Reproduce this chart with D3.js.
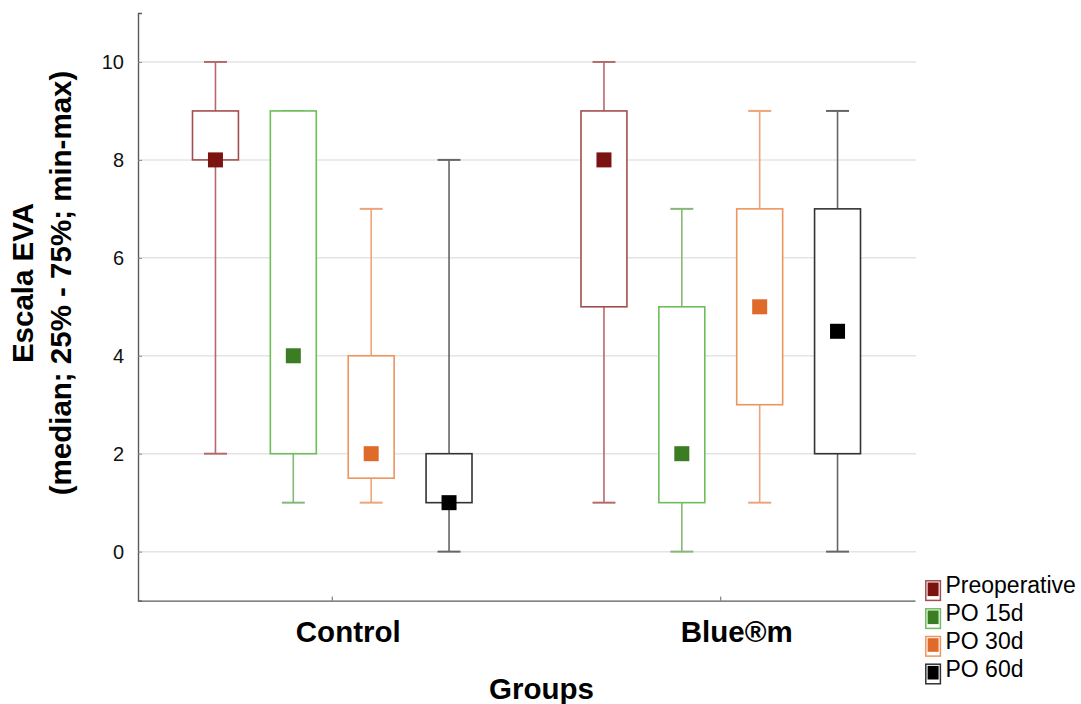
<!DOCTYPE html>
<html>
<head>
<meta charset="utf-8">
<script src="https://cdn.jsdelivr.net/npm/d3@7"></script>
<style>
  html, body { margin: 0; padding: 0; background: #fff; }
  svg { display: block; font-family: "Liberation Sans", Arial, Helvetica, sans-serif; }
</style>
</head>
<body>
<svg id="chart" width="1081" height="704"></svg>
<script>
// ---- data ----
const groups = ["Control", "Blue®m"];
const series = ["Preoperative", "PO 15d", "PO 30d", "PO 60d"];
// [min, q1, median, q3, max] per series, per group
const controlStats = [
  [2, 8, 8, 9, 10],
  [1, 2, 4, 9, 9],
  [1, 1.5, 2, 4, 7],
  [0, 1, 1, 2, 8]
];
const bluemStats = [
  [1, 5, 8, 9, 10],
  [0, 1, 2, 5, 7],
  [1, 3, 5, 7, 9],
  [0, 2, 4.5, 7, 9]
];
const yTicks = [0, 2, 4, 6, 8, 10];

// ---- styles ----
const boxStroke = ["#a24e4e", "#6dbd5a", "#ec955e", "#333333"];
const whiskerStroke = ["#b56a6a", "#85b877", "#eea47a", "#666666"];
const medianFill = ["#7b1411", "#3b7d22", "#df6a2a", "#000000"];

const svg = d3.select("#chart");

const x0 = d3.scaleBand().domain(groups).range([138, 915]).padding(0);
const x1 = d3.scaleBand().domain(series).range([0, x0.bandwidth()])
  .paddingInner(0.41).paddingOuter(0.7);
const y = d3.scaleLinear().domain([-1, 11]).range([600.6, 13]);

const statsByGroup = { "Control": controlStats, "Blue®m": bluemStats };
const rows = [];
groups.forEach(g => series.forEach((s, i) => {
  const v = statsByGroup[g][i];
  rows.push({ g, s, i, min: v[0], q1: v[1], med: v[2], q3: v[3], max: v[4] });
}));

// gridlines
svg.append("g").selectAll("line").data(yTicks).join("line")
  .attr("x1", 138).attr("x2", 916)
  .attr("y1", d => y(d)).attr("y2", d => y(d))
  .attr("stroke", "#e4e4e4").attr("stroke-width", 1.5);

// axes
const yAxis = d3.axisLeft(y).tickValues(yTicks).tickSize(-4).tickPadding(14).tickFormat(d3.format("d"));
const gy = svg.append("g").attr("transform", "translate(138,0)").call(yAxis);
gy.select(".domain").attr("stroke", "#5a5a5a").attr("stroke-width", 1.4);
gy.selectAll(".tick line").attr("stroke", "#888");
gy.selectAll(".tick text").attr("font-size", 20).attr("fill", "#111")
  .attr("font-family", "Liberation Sans, Arial, sans-serif");

const xAxis = d3.axisBottom(x0).tickSize(-4).tickSizeOuter(0).tickFormat("");
const gx = svg.append("g").attr("transform", "translate(0,600.6)").call(xAxis);
gx.select(".domain").attr("stroke", "#5a5a5a").attr("stroke-width", 1.4);
gx.selectAll(".tick line").attr("stroke", "#666");

// category labels
svg.append("g").selectAll("text").data(groups).join("text")
  .attr("x", d => x0(d) + x0.bandwidth() / 2 + 16)
  .attr("y", 641.5)
  .attr("text-anchor", "middle")
  .attr("font-weight", "bold").attr("font-size", 29.5).attr("fill", "#000")
  .text(d => d);

// axis titles
svg.append("text")
  .attr("x", (138 + 915) / 2 + 15).attr("y", 699)
  .attr("text-anchor", "middle")
  .attr("font-weight", "bold").attr("font-size", 29.5).attr("fill", "#000")
  .text("Groups");

const yt = svg.append("g").attr("transform", "translate(0,283) rotate(-90)");
yt.append("text").attr("x", 0).attr("y", 33).attr("text-anchor", "middle")
  .attr("font-weight", "bold").attr("font-size", 29.5).attr("fill", "#000")
  .text("Escala EVA");
yt.append("text").attr("x", 0).attr("y", 71).attr("text-anchor", "middle")
  .attr("font-weight", "bold").attr("font-size", 29.5).attr("fill", "#000")
  .text("(median; 25% - 75%; min-max)");

// boxes
const bw = x1.bandwidth();
const cx = d => x0(d.g) + x1(d.s) + bw / 2;
const capW = bw / 2;

const gb = svg.append("g");
const item = gb.selectAll("g.item").data(rows).join("g").attr("class", "item");

// whiskers
item.append("line")
  .attr("x1", cx).attr("x2", cx)
  .attr("y1", d => y(d.max)).attr("y2", d => y(d.q3))
  .attr("stroke", d => whiskerStroke[d.i]).attr("stroke-width", 1.6);
item.append("line")
  .attr("x1", cx).attr("x2", cx)
  .attr("y1", d => y(d.q1)).attr("y2", d => y(d.min))
  .attr("stroke", d => whiskerStroke[d.i]).attr("stroke-width", 1.6);
// caps
item.append("line")
  .attr("x1", d => cx(d) - capW / 2).attr("x2", d => cx(d) + capW / 2)
  .attr("y1", d => y(d.max)).attr("y2", d => y(d.max))
  .attr("stroke", d => whiskerStroke[d.i]).attr("stroke-width", 2);
item.append("line")
  .attr("x1", d => cx(d) - capW / 2).attr("x2", d => cx(d) + capW / 2)
  .attr("y1", d => y(d.min)).attr("y2", d => y(d.min))
  .attr("stroke", d => whiskerStroke[d.i]).attr("stroke-width", 2);
// box
item.append("rect")
  .attr("x", d => cx(d) - bw / 2).attr("width", bw)
  .attr("y", d => y(d.q3)).attr("height", d => y(d.q1) - y(d.q3))
  .attr("fill", "#fff")
  .attr("stroke", d => boxStroke[d.i]).attr("stroke-width", 1.6);
// median marker
const ms = 15;
item.append("rect")
  .attr("x", d => cx(d) - ms / 2).attr("y", d => y(d.med) - ms / 2)
  .attr("width", ms).attr("height", ms)
  .attr("fill", d => medianFill[d.i]);

// legend
const legBase = [593.3, 621.3, 649, 676.7];
const lg = svg.append("g");
const li = lg.selectAll("g").data(series).join("g")
  .attr("transform", (d, i) => `translate(0,${legBase[i]})`);
li.append("rect")
  .attr("x", 925.8).attr("y", -12.5).attr("width", 14.6).attr("height", 19.6)
  .attr("fill", "#fff").attr("stroke", (d, i) => boxStroke[i]).attr("stroke-width", 1.5);
li.append("rect")
  .attr("x", 927.6).attr("y", -10.8).attr("width", 11).attr("height", 13.6)
  .attr("fill", (d, i) => medianFill[i]);
li.append("text")
  .attr("x", 945.5).attr("y", 0)
  .attr("font-size", 23).attr("fill", "#000")
  .text(d => d);
</script>
</body>
</html>
